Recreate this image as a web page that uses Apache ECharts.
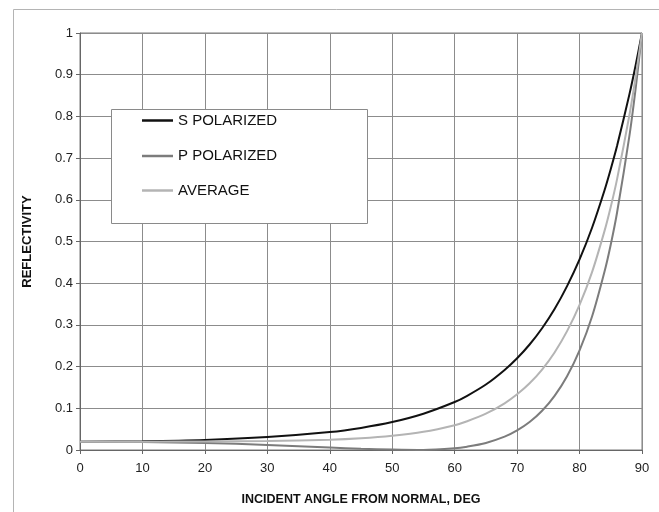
<!DOCTYPE html>
<html>
<head>
<meta charset="utf-8">
<script src="https://cdn.jsdelivr.net/npm/echarts@6/dist/echarts.min.js"></script>
<style>
html,body{margin:0;padding:0;background:#fff;}
#chart{width:659px;height:512px;}
</style>
</head>
<body>
<div id="chart"></div>
<script>
var angles = [0,10,20,30,40,45,50,55,60,62,65,68,70,72,74,76,78,80,82,84,85,86,88,89,90];
var sPolarized = [0.020,0.021,0.024,0.031,0.043,0.053,0.067,0.087,0.115,0.130,0.157,0.192,0.220,0.253,0.292,0.338,0.393,0.457,0.533,0.623,0.674,0.729,0.854,0.924,1.0];
var pPolarized = [0.020,0.019,0.017,0.012,0.006,0.003,0.001,0.000,0.004,0.008,0.017,0.032,0.047,0.067,0.094,0.130,0.177,0.239,0.320,0.428,0.493,0.569,0.755,0.869,1.0];
var average = [0.020,0.020,0.0205,0.0215,0.0245,0.028,0.034,0.0435,0.0595,0.069,0.087,0.112,0.1335,0.160,0.193,0.234,0.285,0.348,0.4265,0.5255,0.5835,0.649,0.8045,0.8965,1.0];
var seriesNames = ['S POLARIZED','P POLARIZED','AVERAGE'];
var xTitle = 'INCIDENT ANGLE FROM NORMAL, DEG';
var yTitle = 'REFLECTIVITY';

function pairs(ys){ return angles.map(function(a,i){ return [a, ys[i]]; }); }

var chart = echarts.init(document.getElementById('chart'), null, {renderer:'canvas'});
var font = '"Liberation Sans", Arial, sans-serif';
function legendAt(name, top){
  return {
    data:[{name:name, icon:'rect'}], left:142, top:top, orient:'vertical',
    itemWidth:31, itemHeight:2.5, itemGap:4, padding:0,
    textStyle:{fontFamily:font, fontSize:15, color:'#111'},
    selectedMode:false, z:10
  };
}
chart.setOption({
  animation:false,
  backgroundColor:'#fff',
  graphic:[
    {type:'rect', z:-1, silent:true, shape:{x:13.5,y:9.5,width:700,height:600}, style:{fill:'none', stroke:'#b4b4b4', lineWidth:1}},
    {type:'rect', z:5, silent:true, shape:{x:111.5,y:109.5,width:256,height:114}, style:{fill:'#fff', stroke:'#8a8a8a', lineWidth:1}}
  ],
  legend:[ legendAt(seriesNames[0],113), legendAt(seriesNames[1],148.5), legendAt(seriesNames[2],183) ],
  grid:{left:80, right:17, top:33, bottom:62, show:true, borderColor:'#7a7a7a', borderWidth:1, backgroundColor:'#fff'},
  xAxis:{
    type:'value', min:0, max:90, interval:10,
    name:xTitle, nameLocation:'middle', nameGap:43,
    nameTextStyle:{fontFamily:font, fontSize:12.5, fontWeight:'bold', color:'#111'},
    axisLine:{show:true, lineStyle:{color:'#666', width:1}},
    axisTick:{show:true, inside:false, length:4, lineStyle:{color:'#666'}},
    axisLabel:{fontFamily:font, fontSize:13, color:'#222', margin:12},
    splitLine:{show:true, lineStyle:{color:'#8c8c8c', width:1}}
  },
  yAxis:{
    type:'value', min:0, max:1, interval:0.1,
    name:yTitle, nameLocation:'middle', nameGap:46,
    nameTextStyle:{fontFamily:font, fontSize:13, fontWeight:'bold', color:'#111'},
    axisLine:{show:true, lineStyle:{color:'#666', width:1}},
    axisTick:{show:true, inside:false, length:4, lineStyle:{color:'#666'}},
    axisLabel:{fontFamily:font, fontSize:13, color:'#222', margin:7},
    splitLine:{show:true, lineStyle:{color:'#8c8c8c', width:1}}
  },
  series:[
    {name:seriesNames[0], type:'line', data:pairs(sPolarized), showSymbol:false, symbol:'none', smooth:0.3, lineStyle:{color:'#111', width:2}, itemStyle:{color:'#111'}, z:2},
    {name:seriesNames[1], type:'line', data:pairs(pPolarized), showSymbol:false, symbol:'none', smooth:0.3, lineStyle:{color:'#7c7c7c', width:2}, itemStyle:{color:'#7c7c7c'}, z:3},
    {name:seriesNames[2], type:'line', data:pairs(average), showSymbol:false, symbol:'none', smooth:0.3, lineStyle:{color:'#b4b4b4', width:2}, itemStyle:{color:'#b4b4b4'}, z:4}
  ]
});
</script>
</body>
</html>
